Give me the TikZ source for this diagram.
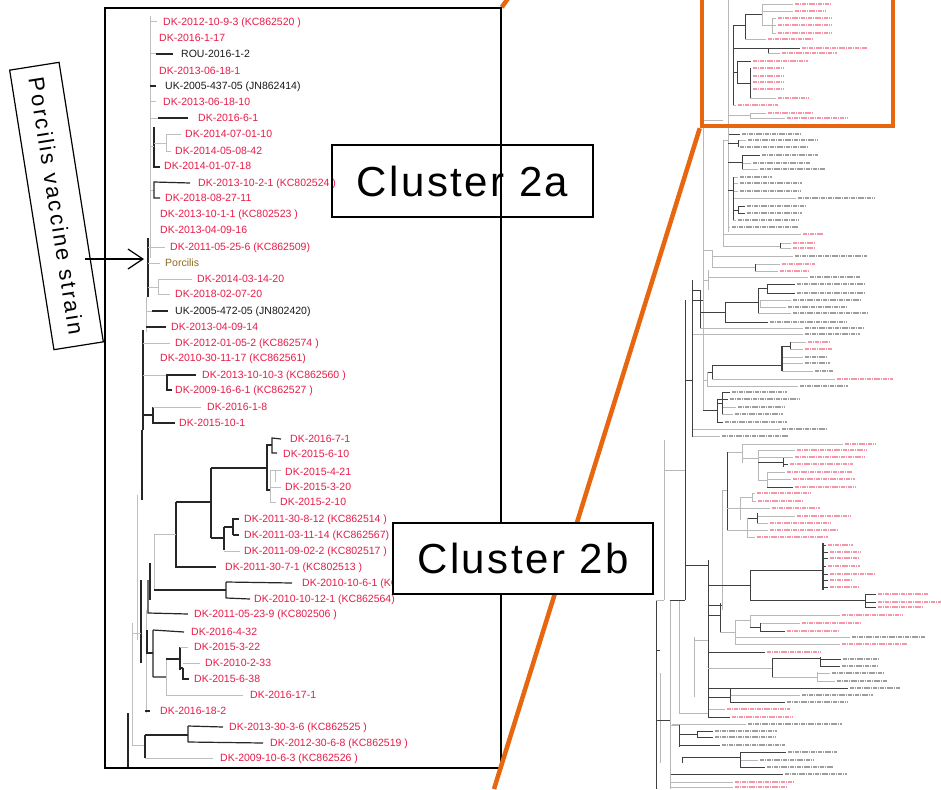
\documentclass[tikz,border=0pt]{standalone}
\usepackage{fontspec}
\setmainfont{Liberation Sans}
\newfontfamily\clfont{Liberation Sans}[LetterSpace=6]
\newfontfamily\pcfont{Liberation Sans}[LetterSpace=11]
\usetikzlibrary{arrows.meta}
\definecolor{labred}{RGB}{232,28,72}
\definecolor{porc}{RGB}{140,105,30}
\definecolor{orng}{RGB}{232,102,16}
\definecolor{rowred}{RGB}{245,150,168}
\begin{document}
\begin{tikzpicture}[x=1pt,y=-1pt,
  lab/.style={anchor=west,inner sep=0pt,text height=7.5pt,text depth=0pt,font=\fontsize{10.5}{12}\selectfont},
  lr/.style={lab,text=labred},
  lk/.style={lab,text=black!90},
  kb/.style={draw=black!85,line width=1.2pt},
  gb/.style={draw=black!25,line width=1pt},
  tk/.style={draw=black!85,line width=2pt},
  rk/.style={draw=black!75,line width=0.8pt},
  rg/.style={draw=black!28,line width=0.8pt},
  rowr/.style={draw=rowred,line width=2.3pt,dash pattern=on 1.7pt off 0.6pt},
  rowk/.style={draw=black!38,line width=2.3pt,dash pattern=on 1.7pt off 0.6pt},
  frame/.style={draw=black,line width=1.5pt,inner sep=0pt},
  clbox/.style={draw=black,line width=1.5pt,inner sep=0pt,font=\clfont\fontsize{42}{48}\selectfont,minimum width=261pt,minimum height=72pt},
  orange/.style={draw=orng,line width=4.5pt}
]
\useasboundingbox (0,0) rectangle (941,789);
\clip (0,0) rectangle (941,789);
\fill[white] (0,0) rectangle (941,789);

% ---------------- right overview tree ----------------
\foreach \y/\b/\l/\e/\c/\s in {
 4/762/795/830/r/g, 11/762/795/825/r/g, 18/772/778/832/r/g, 25/772/778/832/r/g,
 33/772/778/832/r/g, 39/745/768/812/r/g, 48/733/802/867/r/k, 53/768/782/837/r/g,
 61/737/753/808/r/k, 68/750/753/783/r/g, 76/750/753/783/r/g, 82/750/753/783/r/g,
 89/750/753/783/r/g, 98/750/778/808/r/g, 105/733/738/778/r/g, 113/750/768/813/r/g,
 118/750/787/847/r/g,
 134/728/742/800/k/k, 140/738/748/818/k/g, 147/738/740/808/k/g, 155/742/762/818/k/k,
 163/742/753/810/k/g, 169/742/760/825/k/g, 177/733/740/772/k/g, 183/733/740/802/k/g,
 191/733/740/800/k/g, 198/733/798/875/k/g, 206/738/747/805/k/k, 213/738/747/802/k/k,
 220/733/738/798/k/g, 227/728/732/798/k/g, 234/723/803/823/r/g, 243/780/793/815/r/g,
 248/780/793/815/r/g, 256/712/795/867/k/g, 264/755/782/815/r/g, 271/755/780/808/r/g,
 277/708/810/860/k/g, 284/767/797/865/k/k,
 293/767/797/865/k/k, 300/760/793/860/k/g, 307/760/788/847/k/g, 313/758/793/868/k/g,
 322/725/770/847/k/k, 328/700/805/863/k/g, 334/692/805/860/k/g, 342/790/808/830/r/g,
 349/790/805/832/r/g, 357/782/805/827/k/g, 363/782/805/830/k/g, 371/782/815/833/k/g,
 379/712/837/893/r/g, 386/707/800/848/k/g, 392/722/732/787/k/k, 399/717/730/800/k/k,
 407/722/738/785/k/g, 414/722/735/783/k/g, 422/717/725/787/k/k, 429/692/782/827/k/g,
 436/692/722/788/k/g,
 444/742/845/875/r/g, 450/758/797/867/r/g, 457/758/795/865/r/g, 464/783/790/853/r/k,
 472/767/787/852/r/g, 479/767/793/855/r/g, 487/767/795/855/r/k, 493/752/757/810/r/g,
 501/752/758/802/r/g, 508/740/772/820/r/g, 516/757/797/850/r/g, 523/757/770/830/r/g,
 530/747/770/837/r/g, 537/747/757/828/r/g, 545/823/828/853/r/k, 552/823/830/860/r/k,
 558/823/830/858/r/k, 566/823/828/860/r/k, 574/823/830/875/r/k, 580/823/830/853/r/k,
 587/823/830/858/r/k, 594/865/878/928/r/k, 602/865/878/941/r/k, 607/865/878/923/r/k,
 615/750/842/902/r/g, 623/760/802/860/r/g, 631/760/787/838/r/k, 637/735/852/925/k/g,
 644/735/842/907/r/g, 652/708/767/820/r/k, 659/820/843/878/k/k, 666/820/842/877/k/k,
 673/817/832/883/k/g, 681/817/837/887/k/g, 688/708/850/900/k/k, 695/730/802/873/k/g,
 702/730/787/847/k/k, 709/708/727/790/r/g, 717/708/732/792/r/k, 724/672/748/842/k/g,
 731/697/715/777/k/k, 737/697/715/775/k/k, 745/679/722/785/k/k, 752/740/788/837/k/k,
 760/740/760/813/k/g, 767/740/767/833/k/k, 774/670/785/847/k/k, 782/670/735/793/r/g,
 787/670/735/787/r/g}
{\draw[r\s] (\b,\y) -- (\l-2,\y); \draw[row\c] (\l,\y) -- (\e,\y);}
% verticals and inner branches
\draw[rg] (762,4)--(762,25) (762,25)--(772,25) (772,18)--(772,33);
\draw[rk] (745,14)--(745,39) (745,14)--(762,14) (768,48)--(768,53);
\draw[rk] (750,68)--(750,98) (737,61)--(737,83) (737,83)--(750,83);
\draw[rk] (733,25)--(733,105) (733,25)--(745,25) (733,72)--(737,72);
\draw[rg] (750,113)--(750,118) (728,115)--(750,115) (728,0)--(728,232);
\draw[rk] (738,140)--(738,147) (728,143)--(738,143) (742,155)--(742,169) (728,162)--(742,162);
\draw[rk] (733,177)--(733,220) (728,190)--(733,190) (738,206)--(738,213) (733,210)--(738,210);
\draw[rg] (723,140)--(723,247) (723,246)--(780,246) (723,140)--(728,140);
\draw[rk] (780,243)--(780,248) (755,264)--(755,271);
\draw[rg] (712,250)--(712,267) (712,267)--(755,267) (703,120)--(703,410) (703,250)--(712,250) (703,120)--(723,120);
\draw[rg] (708,270)--(708,290) (703,280)--(708,280);
\draw[rk] (767,284)--(767,293) (758,288)--(767,288) (758,288)--(758,313) (725,302)--(758,302);
\draw[rg] (760,300)--(760,307);
\draw[rk] (725,302)--(725,322) (700,312)--(725,312) (700,290)--(700,328);
\draw[rk] (790,342)--(790,349) (782,346)--(790,346) (712,365)--(782,365) (712,365)--(712,379) (707,372)--(712,372);
\draw[rk,line width=1.4pt] (782,346)--(782,371);
\draw[rg] (707,372)--(707,386) (703,380)--(707,380);
\draw[rk] (722,392)--(722,414) (717,403)--(722,403) (717,399)--(717,422) (703,410)--(717,410);
\draw[rk] (692,280)--(692,437) (692,300)--(703,300) (692,290)--(700,290);
\draw[rg] (742,444)--(742,463) (727,452)--(742,452) (758,450)--(758,480) (742,458)--(758,458);
\draw[rk] (783,458)--(783,467) (758,462)--(783,462);
\draw[rg] (767,472)--(767,487) (758,480)--(767,480);
\draw[rk] (727,452)--(727,530);
\draw[rg] (752,493)--(752,501) (740,497)--(752,497) (740,497)--(740,520) (727,508)--(740,508);
\draw[rk] (757,513)--(757,523) (747,518)--(757,518);
\draw[rg] (747,518)--(747,537) (727,530)--(747,530) (722,490)--(722,610) (722,490)--(727,490);
\draw[rk,line width=1.4pt] (823,543)--(823,590);
\draw[rk] (750,570)--(823,570) (750,570)--(750,600) (750,600)--(865,600) (865,594)--(865,607);
\draw[rk] (708,560)--(708,717) (708,585)--(750,585) (708,605)--(722,605);
\draw[rg] (750,615)--(750,627) (735,620)--(750,620);
\draw[rk] (760,623)--(760,631) (750,627)--(760,627);
\draw[rg] (735,620)--(735,644) (720,632)--(735,632);
\draw[rk] (720,603)--(720,632) (708,615)--(720,615);
\draw[rk] (772,658)--(772,677) (772,658)--(820,658) (820,657)--(820,667);
\draw[rg] (817,672)--(817,681) (772,677)--(817,677) (708,668)--(772,668);
\draw[rk] (730,688)--(730,702) (708,697)--(730,697);
\draw[rg] (694,637)--(694,697) (694,640)--(708,640) (679,600)--(679,713) (679,713)--(708,713);
\draw[rk] (697,731)--(697,737) (679,734)--(697,734) (679,725)--(679,747);
\draw[rk] (740,752)--(740,767) (682,757)--(740,757) (682,757)--(682,763);
\draw[rg] (670,600)--(670,789) (660,673)--(660,763) (670,725)--(679,725);
\draw[rk] (656,600)--(656,789) (656,720)--(670,720) (656,650)--(660,650);
\draw[rk] (685,300)--(685,600) (685,380)--(692,380) (685,565)--(708,565) (670,600)--(685,600);
\draw[rg] (664,440)--(664,600) (664,470)--(685,470) (656,600)--(664,600);

% ---------------- left detailed tree: labels ----------------
\node[lr] (a1) at (163,22) {DK-2012-10-9-3 (KC862520 )};
\node[lr] (a2) at (159,38) {DK-2016-1-17};
\node[lk] (a3) at (181,54) {ROU-2016-1-2};
\node[lr] (a4) at (159,71) {DK-2013-06-18-1};
\node[lk] (a5) at (165,86) {UK-2005-437-05 (JN862414)};
\node[lr] (a6) at (163,102) {DK-2013-06-18-10};
\node[lr] (a7) at (198,118) {DK-2016-6-1};
\node[lr] (a8) at (185,134) {DK-2014-07-01-10};
\node[lr] (a9) at (175,151) {DK-2014-05-08-42};
\node[lr] (a10) at (164,166) {DK-2014-01-07-18};
\node[lr] (a11) at (198,183) {DK-2013-10-2-1 (KC802524 )};
\node[lr] (a12) at (165,198) {DK-2018-08-27-11};
\node[lr] (a13) at (160,214) {DK-2013-10-1-1 (KC802523 )};
\node[lr] (a14) at (160,230) {DK-2013-04-09-16};
\node[lr] (a15) at (170,247) {DK-2011-05-25-6 (KC862509)};
\node[lab,text=porc] (a16) at (165,263) {Porcilis};
\node[lr] (a17) at (197,279) {DK-2014-03-14-20};
\node[lr] (a18) at (175,294) {DK-2018-02-07-20};
\node[lk] (a19) at (175,311) {UK-2005-472-05 (JN802420)};
\node[lr] (a20) at (171,327) {DK-2013-04-09-14};
\node[lr] (a21) at (175,343) {DK-2012-01-05-2 (KC862574 )};
\node[lr] (a22) at (160,358) {DK-2010-30-11-17 (KC862561)};
\node[lr] (a23) at (202,375) {DK-2013-10-10-3 (KC862560 )};
\node[lr] (a24) at (175,390) {DK-2009-16-6-1 (KC862527 )};
\node[lr] (a25) at (207,407) {DK-2016-1-8};
\node[lr] (a26) at (179,423) {DK-2015-10-1};
\node[lr] (b1) at (290,439) {DK-2016-7-1};
\node[lr] (b2) at (283,454) {DK-2015-6-10};
\node[lr] (b3) at (285,472) {DK-2015-4-21};
\node[lr] (b4) at (285,487) {DK-2015-3-20};
\node[lr] (b5) at (280,502) {DK-2015-2-10};
\node[lr] (b6) at (244,519) {DK-2011-30-8-12 (KC862514 )};
\node[lr] (b7) at (244,535) {DK-2011-03-11-14 (KC862567)};
\node[lr] (b8) at (244,551) {DK-2011-09-02-2 (KC802517 )};
\node[lr] (b9) at (225,567) {DK-2011-30-7-1 (KC802513 )};
\node[lr] (b10) at (302,583) {DK-2010-10-6-1 (KC862565 )};
\node[lr] (b11) at (254,599) {DK-2010-10-12-1 (KC862564)};
\node[lr] (b12) at (194,614) {DK-2011-05-23-9 (KC802506 )};
\node[lr] (b13) at (191,632) {DK-2016-4-32};
\node[lr] (b14) at (194,647) {DK-2015-3-22};
\node[lr] (b15) at (205,663) {DK-2010-2-33};
\node[lr] (b16) at (194,679) {DK-2015-6-38};
\node[lr] (b17) at (250,695) {DK-2016-17-1};
\node[lr] (b18) at (160,711) {DK-2016-18-2};
\node[lr] (b19) at (229,727) {DK-2013-30-3-6 (KC862525 )};
\node[lr] (b20) at (270,743) {DK-2012-30-6-8 (KC862519 )};
\node[lr] (b21) at (220,758) {DK-2009-10-6-3 (KC862526 )};

% ---------------- left detailed tree: branches ----------------
\draw[gb] (150,16)--(150,258);
\draw[gb] (150,22)--([xshift=-6pt]a1.west);
\draw[gb] (150,54)--(156,54);
\draw[kb] (156,54)--([xshift=-8pt]a3.west);
\draw[kb] (150,86)--(156,86);
\draw[gb] (150,102)--(156,102);
\draw[gb] (150,118)--(158,118);
\draw[kb] (158,118)--([xshift=-10pt]a7.west);
\draw[kb] (154,127)--(154,167)--(160,167);
\draw[gb] (150,146)--(154,146) (154,143)--(166,143);
\draw[gb] ([xshift=-4pt]a8.west)--(166,134)--(166,151)--(171,151);
\draw[gb] (150,190)--(154,190);
\draw[kb] ([xshift=-8pt]a11.west)--(154,182)--(154,198)--(160,198);
\draw[kb] (148,238)--(148,297);
\draw[gb] (148,247)--([xshift=-5pt]a15.west);
\draw[gb] (148,263)--(160,263);
\draw[gb] (148,287)--(158,287);
\draw[gb] ([xshift=-5pt]a17.west)--(158,279)--(158,294)--(170,294);
\draw[gb] (146,297)--(146,332);
\draw[gb] (146,311)--(152,311);
\draw[kb] (152,311)--([xshift=-7pt]a19.west);
\draw[kb] (146,327)--([xshift=-5pt]a20.west);
\draw[tk] (143,330)--(143,430);
\draw[gb] (143,343)--([xshift=-5pt]a21.west);
\draw[gb] (143,375)--(167,375);
\draw[kb] ([xshift=-6pt]a23.west)--(167,375)--(167,390)--(172,390);
\draw[kb] (143,415)--(153,415);
\draw[kb] (153,407)--(153,423)--([xshift=-4pt]a26.west);
\draw[gb] (153,407)--([xshift=-6pt]a25.west);
% cluster 2b
\draw[kb] (142,430)--(142,500);
\draw[gb] (137,495)--(137,640);
\draw[kb] ([xshift=-9pt]b1.west)--(272,438)--(272,453)--(277,453);
\draw[gb] (275,470)--(275,482) (270,470)--(270,502) (270,470)--(281,470) (270,487)--(281,487) (270,502)--(276,502);
\draw[kb] (272,445)--(267,445)--(267,490)--(270,490);
\draw[kb] (211,468)--(267,468);
\draw[kb] (211,468)--(211,538);
\draw[kb] (176,502)--(211,502);
\draw[kb] (176,502)--(176,567)--([xshift=-9pt]b9.west);
\draw[kb] (211,538)--(224,538) (224,527)--(224,550) (224,527)--(233,527) (233,518)--(233,535);
\draw[kb] (233,519)--(239,519) (233,535)--(239,535);
\draw[gb] (224,551)--(240,551);
\draw[gb] (154,534)--(176,534) (154,534)--(154,590);
\draw[kb] (150,563)--(150,600);
\draw[kb] (154,590)--(226,590);
\draw[kb] (226,582)--(226,598) (226,582)--([xshift=-10pt]b10.west) (226,598)--([xshift=-4pt]b11.west);
\draw[kb] (148,580)--(148,613)--([xshift=-6pt]b12.west);
\draw[kb] (141,580)--(141,663);
\draw[gb] (146,610)--(146,713);
\draw[kb] (153,630)--(153,677) (153,630)--([xshift=-7pt]b13.west) (153,677)--(166,677);
\draw[kb] (147,630)--(147,653)--(153,653);
\draw[gb] (166,658)--(166,695)--([xshift=-7pt]b17.west);
\draw[kb] (166,659)--(180,659) (180,647)--(180,670);
\draw[gb] (180,647)--([xshift=-6pt]b14.west);
\draw[kb] (180,668)--(183,668) (183,668)--(183,679)--([xshift=-5pt]b16.west);
\draw[gb] (183,663)--([xshift=-5pt]b15.west);
\draw[kb] (145,711)--(150,711);
\draw[gb] (132,623)--(132,745) (132,633)--(141,633) (132,745)--(145,745);
\draw[kb] (128,713)--(128,768);
\draw[kb] (145,735)--(145,758) (145,735)--(188,735);
\draw[kb] (188,726)--(188,742) (188,726)--([xshift=-6pt]b19.west) (188,742)--([xshift=-7pt]b20.west);
\draw[gb] (145,758)--([xshift=-7pt]b21.west);

% ---------------- frames and callouts ----------------
\node[frame,minimum width=396pt,minimum height=760pt] (leftpanel) at (303,388) {};
\node[clbox] (c2a) at (462.5,181) {Cluster 2a};
\node[draw=orng,line width=4.5pt,minimum width=191pt,minimum height=166pt,inner sep=0pt] (obox) at (797.5,43) {};
\coordinate (oend) at (494,789);
\coordinate (otop) at (521,-20);
\draw[orange] (obox.south west) -- (oend);
\draw[orange] (leftpanel.north east) -- (otop);
\node[clbox,fill=white,minimum width=260pt,minimum height=71pt] (c2b) at (523,558.5) {Cluster 2b};
\node[draw=black,line width=1.2pt,fill=white,rotate=-81,minimum width=283pt,minimum height=50pt,inner sep=0pt,font=\pcfont\fontsize{22}{26}\selectfont] (pv) at (56.5,206) {Porcilis vaccine strain};
\coordinate (astart) at (85,259);
\draw[line width=1.2pt,-{Straight Barb[length=15pt,width=20pt]}] (astart) -- ([xshift=-21pt,yshift=4pt]a16.west);
\end{tikzpicture}
\end{document}
